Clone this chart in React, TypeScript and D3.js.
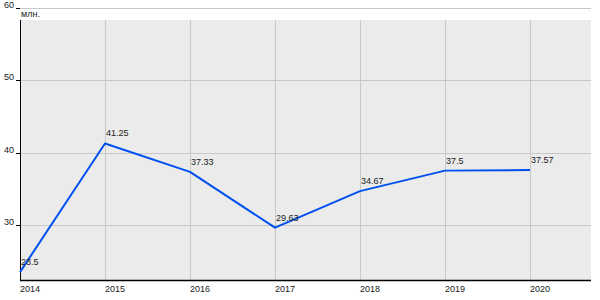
import React from "react";
import * as d3 from "d3";

const years = [2014, 2015, 2016, 2017, 2018, 2019, 2020];
const values = [23.5, 41.25, 37.33, 29.63, 34.67, 37.5, 37.57];
const valueLabels = ["23.5", "41.25", "37.33", "29.63", "34.67", "37.5", "37.57"];
const yTicks = [30, 40, 50, 60];
const unitLabel = "млн.";

const W = 600;
const H = 300;
const left = 20;
const right = 591;
const plotTop = 20;
const bottom = 280;

export default function App() {
  const x = d3.scaleLinear().domain([2014, 2020]).range([20, 530]);
  const y = d3.scaleLinear().domain([30, 60]).range([225, 7.5]);
  const px = (v: number) => Math.round(x(v)) + 0.5;
  const py = (v: number) => Math.round(y(v)) + 0.5;
  const line = d3
    .line<number>()
    .x((_, i) => x(years[i]))
    .y((d) => y(d));
  const font = "'Liberation Sans', Arial, sans-serif";
  return (
    <svg
      width={W}
      height={H}
      style={{ position: "absolute", left: 0, top: 0, background: "#fff" }}
    >
      <rect x={left} y={plotTop} width={right - left} height={bottom - plotTop} fill="#ebebeb" />
      {years.map((yr) => (
        <line key={yr} x1={px(yr)} x2={px(yr)} y1={plotTop} y2={bottom} stroke="#c8c8c8" strokeWidth={1} />
      ))}
      {yTicks.map((t) => (
        <g key={t}>
          <line x1={left - 4} x2={right} y1={py(t)} y2={py(t)} stroke="#c8c8c8" strokeWidth={1} />
          <line x1={left - 4} x2={left} y1={py(t)} y2={py(t)} stroke="#000" strokeWidth={1} />
          <text x={14} y={Math.round(y(t))} textAnchor="end" fontFamily={font} fontSize={9} fill="#1a1a1a">
            {t}
          </text>
        </g>
      ))}
      <text x={21} y={17} fontFamily={font} fontSize={9} fill="#1a1a1a">{unitLabel}</text>
      <line x1={left + 0.5} x2={left + 0.5} y1={plotTop} y2={bottom + 1} stroke="#000" strokeWidth={1} />
      <line x1={left} x2={right} y1={bottom + 0.5} y2={bottom + 0.5} stroke="#000" strokeWidth={1.5} />
      <path d={line(values) || ""} fill="none" stroke="#0050f0" strokeWidth={2} strokeLinejoin="round" />
      {values.map((v, i) => (
        <text key={i} x={x(years[i]) + 1} y={y(v) - 7} fontFamily={font} fontSize={9} fill="#1a1a1a">
          {valueLabels[i]}
        </text>
      ))}
      {years.map((yr) => (
        <text key={yr} x={x(yr)} y={292} fontFamily={font} fontSize={9} fill="#1a1a1a">
          {yr}
        </text>
      ))}
    </svg>
  );
}
